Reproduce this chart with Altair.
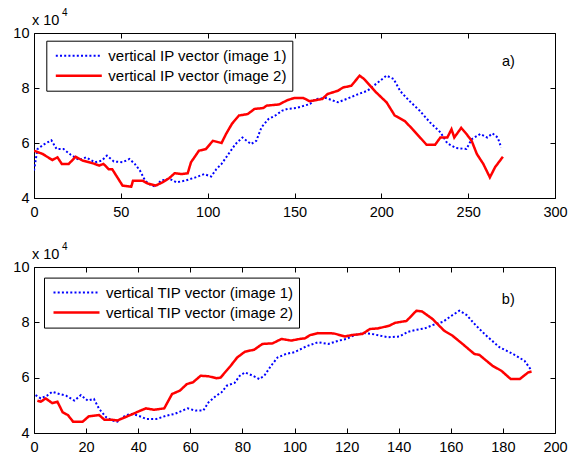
import altair as alt
import pandas as pd

FONT = "Liberation Sans"
BLUE = "#0000ff"
RED = "#ff0000"

# ---------------- data (y in units of 1e4) -------------
names_a = ["vertical IP vector (image 1)", "vertical IP vector (image 2)"]
names_b = ["vertical TIP vector (image 1)", "vertical TIP vector (image 2)"]

xa1 = [0, 2, 6, 10, 13, 17, 21, 26, 30, 35, 39, 42, 46, 51, 55, 58, 61, 64, 67, 70,
       73, 78, 82, 87, 93, 98, 102, 105, 108, 112, 116, 120, 125, 128, 131, 135, 139,
       143, 146, 151, 159, 162, 168, 175, 180, 186, 192, 198, 203, 207, 211, 216, 222,
       228, 234, 238, 243, 249, 252, 257, 261, 264, 267, 269]
ya1 = [5.0, 5.78, 5.96, 6.1, 5.78, 5.78, 5.58, 5.38, 5.48, 5.3, 5.36, 5.54, 5.33, 5.3,
       5.42, 5.24, 5.0, 4.63, 4.48, 4.41, 4.63, 4.7, 4.57, 4.63, 4.75, 4.87, 4.78, 5.05,
       5.24, 5.6, 5.96, 6.2, 5.96, 6.08, 6.57, 6.87, 7.0, 7.18, 7.24, 7.27, 7.42, 7.6,
       7.64, 7.48, 7.6, 7.76, 7.9, 8.2, 8.45, 8.33, 7.88, 7.54, 7.18, 6.75, 6.39, 5.99,
       5.82, 5.78, 6.14, 6.33, 6.2, 6.35, 6.2, 5.84]

xa2 = [0, 5, 10.6, 13.5, 16, 20, 24, 28, 34, 37.5, 40, 43, 45, 48, 51, 56, 57, 62.5,
       65.4, 70, 74, 78, 81, 85, 88.5, 90.4, 95, 99, 103, 108, 110.6, 114, 118, 123,
       127, 132, 134, 141, 146, 150, 155, 158.7, 166, 169, 175, 178, 182.7, 187.5, 190,
       197, 203, 207.7, 213.5, 218, 226, 231, 234, 238, 240.4, 242, 246, 249, 252, 255,
       258.7, 262.5, 265.5, 270]
ya2 = [5.72, 5.6, 5.38, 5.48, 5.24, 5.24, 5.5, 5.36, 5.26, 5.18, 5.24, 5.05, 5.05, 4.75,
       4.45, 4.41, 4.63, 4.63, 4.53, 4.45, 4.57, 4.73, 4.9, 4.87, 4.9, 5.3, 5.72, 5.78,
       6.08, 6.0, 6.33, 6.7, 7.0, 7.05, 7.24, 7.27, 7.36, 7.4, 7.56, 7.64, 7.64, 7.52,
       7.6, 7.78, 7.9, 8.02, 8.08, 8.45, 8.33, 7.84, 7.48, 7.0, 6.8, 6.5, 5.94, 5.94, 6.2,
       6.2, 6.5, 6.2, 6.55, 6.33, 6.08, 5.6, 5.24, 4.75, 5.12, 5.5]

xb1 = [0.6, 2.6, 5, 7, 9.7, 12.3, 15.5, 18, 20.6, 23, 25, 27.7, 30, 32, 35, 37.4, 40, 43,
       47, 51, 54, 57, 59, 62, 65, 67, 70, 72, 74, 77, 79, 81, 84, 86.5, 88.4, 91, 93.5,
       96.8, 100, 104.5, 109, 113, 117, 120, 123, 126.6, 129.8, 132.7, 136, 140.4, 143.6,
       146.8, 150, 153, 157, 160, 163.3, 166, 169.7, 173.6, 178.7, 183.8, 188.3, 190.6]
yb1 = [5.37, 5.25, 5.35, 5.49, 5.41, 5.35, 5.17, 5.37, 5.17, 5.23, 4.87, 4.57, 4.45, 4.41,
       4.63, 4.69, 4.63, 4.51, 4.51, 4.63, 4.69, 4.81, 4.89, 4.81, 4.81, 5.11, 5.35, 5.47,
       5.71, 5.81, 6.07, 6.19, 6.07, 5.95, 6.07, 6.43, 6.73, 6.86, 6.92, 7.13, 7.28, 7.22,
       7.34, 7.4, 7.54, 7.61, 7.58, 7.52, 7.46, 7.49, 7.66, 7.73, 7.78, 7.9, 8.02, 8.22,
       8.42, 8.27, 7.88, 7.52, 7.1, 6.86, 6.61, 6.31]

xb2 = [1.3, 2.6, 4.5, 7, 9, 11, 13, 15, 18.7, 21, 25, 27, 30, 32, 35, 38, 40.6, 43, 46, 50,
       53, 56, 58.7, 61, 64, 67, 70, 71.6, 75.5, 78, 81, 84.5, 87.7, 91.6, 95, 98.7, 102,
       104, 106, 109, 115, 119.4, 122, 126, 129, 132, 136.5, 138.5, 143, 146.8, 149, 153,
       157.4, 160.6, 164.5, 169, 171, 176, 179.4, 183, 186.5, 189.7, 191]
yb2 = [5.17, 5.13, 5.25, 5.08, 5.13, 4.75, 4.65, 4.41, 4.41, 4.6, 4.65, 4.48, 4.48, 4.45,
       4.57, 4.69, 4.8, 4.89, 4.84, 4.89, 5.41, 5.53, 5.77, 5.83, 6.07, 6.05, 5.98, 6.0,
       6.43, 6.73, 6.94, 7.01, 7.22, 7.24, 7.4, 7.34, 7.4, 7.42, 7.54, 7.61, 7.6, 7.49,
       7.54, 7.58, 7.76, 7.78, 7.88, 7.98, 8.05, 8.42, 8.39, 8.12, 7.7, 7.52, 7.22, 6.86,
       6.82, 6.43, 6.25, 5.95, 5.95, 6.19, 6.22]

xticks_a = [0, 50, 100, 150, 200, 250, 300]
xticks_b = [0, 20, 40, 60, 80, 100, 120, 140, 160, 180, 200]
yticks = [4, 6, 8, 10]

W = 521
FS = 14.5


def make_df(x1, y1, x2, y2, names):
    d1 = pd.DataFrame({"x": x1, "y": y1, "s": names[0]})
    d2 = pd.DataFrame({"x": x2, "y": y2, "s": names[1]})
    return pd.concat([d1, d2], ignore_index=True)


def panel(df, names, xmax, xticks, tag, tag_x, tag_y, leg_x, leg_y, h):
    xs = alt.Scale(domain=[0, xmax], nice=False, zero=False)
    ys = alt.Scale(domain=[4, 10], nice=False, zero=False)
    leg = dict(title=None, orient="none", legendX=leg_x, legendY=leg_y,
               direction="vertical")
    lines = alt.Chart(df).mark_line(strokeCap="butt", clip=True).encode(
        x=alt.X("x:Q", scale=xs, title=None,
                axis=alt.Axis(values=xticks, orient="bottom", offset=-5, tickSize=5,
                              domain=False, grid=False, labelPadding=7,
                              labelFlush=False, labelOverlap=False)),
        y=alt.Y("y:Q", scale=ys, title=None,
                axis=alt.Axis(values=yticks, orient="left", offset=-5, tickSize=5,
                              domain=False, grid=False, labelPadding=5, format="d")),
        color=alt.Color("s:N", scale=alt.Scale(domain=names, range=[BLUE, RED]),
                        legend=alt.Legend(**leg)),
        strokeDash=alt.StrokeDash("s:N", scale=alt.Scale(domain=names,
                                                         range=[[2, 2.2], [1, 0]]),
                                  legend=alt.Legend(**leg)),
        strokeWidth=alt.StrokeWidth("s:N", scale=alt.Scale(domain=names, range=[2, 2.5]),
                                    legend=None),
    )
    frame = alt.Chart(df).mark_line(opacity=0).encode(
        x=alt.X("x:Q", scale=xs, title=None,
                axis=alt.Axis(values=xticks, orient="top", offset=-5, tickSize=5,
                              domain=False, grid=False, labels=False)),
        y=alt.Y("y:Q", scale=ys, title=None,
                axis=alt.Axis(values=yticks, orient="right", offset=-5, tickSize=5,
                              domain=False, grid=False, labels=False)),
    )
    tag_df = pd.DataFrame({"x": [tag_x], "y": [tag_y], "t": [tag]})
    tag_mark = alt.Chart(tag_df).mark_text(align="left", baseline="middle",
                                           font=FONT, fontSize=FS, color="black").encode(
        x=alt.X("x:Q", scale=xs, axis=None), y=alt.Y("y:Q", scale=ys, axis=None),
        text="t:N")
    exp_df = pd.DataFrame({"t": ["x 10"]})
    exp_base = alt.Chart(exp_df).mark_text(align="left", baseline="alphabetic",
                                           font=FONT, fontSize=FS, color="black").encode(
        x=alt.value(-2), y=alt.value(-8), text="t:N")
    sup_df = pd.DataFrame({"t": ["4"]})
    exp_sup = alt.Chart(sup_df).mark_text(align="left", baseline="alphabetic",
                                          font=FONT, fontSize=10, color="black").encode(
        x=alt.value(28), y=alt.value(-17.5), text="t:N")
    return alt.layer(lines, frame, tag_mark, exp_base, exp_sup).resolve_axis(
        x="independent", y="independent").properties(width=W, height=h)


df_a = make_df(xa1, ya1, xa2, ya2, names_a)
df_b = make_df(xb1, yb1, xb2, yb2, names_b)

pa = panel(df_a, names_a, 300, xticks_a, "a)", 269.5, 8.95, 12.3, 7.7, 165)
pb = panel(df_b, names_b, 200, xticks_b, "b)", 179.6, 8.8, 10, 10.6, 166)

chart = alt.vconcat(pa, pb, spacing=22).resolve_scale(
    color="independent", strokeDash="independent", strokeWidth="independent"
).resolve_legend(color="independent", strokeDash="independent").properties(
    padding={"left": 12, "top": 7, "right": 5, "bottom": 5},
    background="white",
).configure_view(stroke="black", strokeWidth=1).configure_axis(
    labelFont=FONT, labelFontSize=FS, labelColor="black", tickColor="black",
    tickWidth=1,
).configure_legend(
    symbolType="stroke", symbolSize=2116, symbolStrokeWidth=2, clipHeight=20,
    padding=5, symbolOffset=3, labelOffset=5, labelFont=FONT, labelFontSize=15,
    labelColor="black", labelLimit=400, strokeColor="black", fillColor="white",
    rowPadding=0, cornerRadius=0,
)

chart.save("out.html", embed_options={"renderer": "svg", "actions": False})
